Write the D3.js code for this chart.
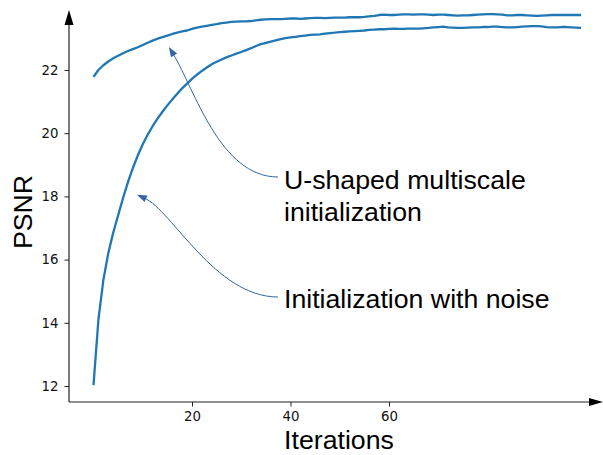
<!DOCTYPE html>
<html>
<head>
<meta charset="utf-8">
<script src="https://cdn.jsdelivr.net/npm/d3@7"></script>
<style>
  html, body { margin: 0; padding: 0; background: #fff; }
  svg { display: block; }
</style>
</head>
<body>
<svg id="chart" width="603" height="455"></svg>
<script>
// PSNR per iteration for the two initialisation strategies
const iterations = d3.range(0, 100);

const psnrNoise = [
  12.03, 14.10, 15.35, 16.20, 16.85, 17.40, 17.95, 18.45, 18.90, 19.30,
  19.65, 19.95, 20.22, 20.46, 20.68, 20.88, 21.07, 21.25, 21.42, 21.57,
  21.72, 21.85, 21.97, 22.08, 22.18, 22.26, 22.33, 22.40, 22.46, 22.52,
  22.57, 22.63, 22.69, 22.76, 22.82, 22.86, 22.90, 22.94, 22.98, 23.01,
  23.03, 23.05, 23.07, 23.09, 23.11, 23.12, 23.13, 23.15, 23.17, 23.18,
  23.20, 23.21, 23.22, 23.23, 23.24, 23.25, 23.27, 23.28, 23.29, 23.29,
  23.30, 23.31, 23.30, 23.30, 23.31, 23.31, 23.31, 23.32, 23.33, 23.35,
  23.36, 23.37, 23.35, 23.34, 23.33, 23.33, 23.34, 23.35, 23.35, 23.36,
  23.36, 23.37, 23.37, 23.36, 23.35, 23.35, 23.36, 23.37, 23.38, 23.39,
  23.39, 23.38, 23.36, 23.35, 23.35, 23.36, 23.36, 23.35, 23.34, 23.33
];

const psnrUShaped = [
  21.78, 22.00, 22.15, 22.27, 22.37, 22.45, 22.53, 22.60, 22.66, 22.72,
  22.79, 22.86, 22.93, 22.99, 23.04, 23.09, 23.14, 23.18, 23.22, 23.25,
  23.30, 23.34, 23.37, 23.40, 23.43, 23.45, 23.48, 23.50, 23.52, 23.53,
  23.54, 23.54, 23.55, 23.57, 23.59, 23.60, 23.61, 23.61, 23.61, 23.62,
  23.63, 23.63, 23.62, 23.63, 23.64, 23.65, 23.65, 23.64, 23.65, 23.66,
  23.66, 23.66, 23.67, 23.67, 23.67, 23.68, 23.70, 23.71, 23.74, 23.75,
  23.74, 23.74, 23.75, 23.76, 23.76, 23.75, 23.76, 23.76, 23.75, 23.74,
  23.75, 23.75, 23.74, 23.73, 23.72, 23.73, 23.73, 23.74, 23.75, 23.76,
  23.77, 23.77, 23.76, 23.75, 23.73, 23.73, 23.74, 23.74, 23.73, 23.72,
  23.71, 23.72, 23.73, 23.74, 23.74, 23.74, 23.74, 23.74, 23.74, 23.74
];

const xTicks = [20, 40, 60];
const yTicks = [12, 14, 16, 18, 20, 22];

// annotation labels and the curve points their arrows point at
const noteLines = [["U-shaped multiscale", "initialization"], ["Initialization with noise"]];
const noteTargets = [[15.3, 22.73], [8.8, 18.05]];

const svg = d3.select("#chart");

const x = d3.scaleLinear().domain([0, 60]).range([93.5, 389]);
const y = d3.scaleLinear().domain([12, 22]).range([386, 70]);

const axisX0 = 69, axisY0 = 402;
const axisColor = "#222";

// axes with arrow heads
const axes = svg.append("g");
axes.append("line")
  .attr("x1", axisX0).attr("x2", axisX0)
  .attr("y1", axisY0).attr("y2", 22)
  .attr("stroke", axisColor).attr("stroke-width", 1.2);
axes.append("path")
  .attr("d", `M${axisX0},10 L${axisX0 - 4.5},25 L${axisX0 + 4.5},25 Z`)
  .attr("fill", "#000");
axes.append("line")
  .attr("x1", axisX0).attr("x2", 592)
  .attr("y1", axisY0).attr("y2", axisY0)
  .attr("stroke", axisColor).attr("stroke-width", 1.2);
axes.append("path")
  .attr("d", `M603,${axisY0} L589,${axisY0 - 4} L589,${axisY0 + 4} Z`)
  .attr("fill", "#000");

const yAxis = svg.append("g")
  .attr("transform", `translate(${axisX0},0)`)
  .call(d3.axisLeft(y).tickValues(yTicks).tickSize(4.5).tickPadding(6).tickFormat(d3.format("d")));
const xAxis = svg.append("g")
  .attr("transform", `translate(0,${axisY0})`)
  .call(d3.axisBottom(x).tickValues(xTicks).tickSize(4.5).tickPadding(5.5).tickFormat(d3.format("d")));

[yAxis, xAxis].forEach(g => {
  g.select(".domain").remove();
  g.selectAll(".tick line").attr("stroke", axisColor).attr("stroke-width", 1);
  g.selectAll(".tick text")
    .attr("fill", "#111")
    .style("font-family", "'DejaVu Sans', sans-serif")
    .style("font-size", "13.3px");
});

// axis titles
svg.append("text")
  .attr("x", 339).attr("y", 449)
  .attr("text-anchor", "middle")
  .style("font-family", "'Liberation Sans', Arial, sans-serif")
  .style("font-size", "26.7px")
  .attr("fill", "#000")
  .text("Iterations");
svg.append("text")
  .attr("transform", "translate(32,212) rotate(-90)")
  .attr("text-anchor", "middle")
  .style("font-family", "'Liberation Sans', Arial, sans-serif")
  .style("font-size", "26.7px")
  .attr("fill", "#000")
  .text("PSNR");

// PSNR curves
const line = d3.line()
  .x((d, i) => x(iterations[i]))
  .y(d => y(d));

[psnrNoise, psnrUShaped].forEach(series => {
  svg.append("path")
    .datum(series)
    .attr("d", line)
    .attr("fill", "none")
    .attr("stroke", "#1f77b4")
    .attr("stroke-width", 2.3)
    .attr("stroke-linejoin", "round")
    .attr("stroke-linecap", "butt");
});

// annotations: text block with a curved arrow running to its curve
const noteColor = "#3465a4";
const noteTextX = 284;
const noteBaselines = [189, 308];
const noteStarts = [[278, 177], [278, 297]];
const noteBends = [[[220, 177], [195, 90]], [[215, 297], [172, 210]]];

noteLines.forEach((lines, k) => {
  const t = svg.append("text")
    .style("font-family", "'Liberation Sans', Arial, sans-serif")
    .style("font-size", "26.7px")
    .attr("fill", "#000");
  lines.forEach((s, j) => {
    t.append("tspan")
      .attr("x", noteTextX)
      .attr("y", noteBaselines[k] + j * 32)
      .text(s);
  });

  const tip = [x(noteTargets[k][0]), y(noteTargets[k][1])];
  const [p0, [c1, c2]] = [noteStarts[k], noteBends[k]];
  // stop the shaft slightly short of the tip so the head stays sharp
  const dx = tip[0] - c2[0], dy = tip[1] - c2[1];
  const len = Math.hypot(dx, dy);
  const ux = dx / len, uy = dy / len;
  const headLen = 10, headW = 3.6;
  const base = [tip[0] - ux * headLen, tip[1] - uy * headLen];

  const p = d3.path();
  p.moveTo(p0[0], p0[1]);
  p.bezierCurveTo(c1[0], c1[1], c2[0], c2[1], base[0] + ux * 2, base[1] + uy * 2);
  svg.append("path")
    .attr("d", p.toString())
    .attr("fill", "none")
    .attr("stroke", noteColor)
    .attr("stroke-width", 1);

  svg.append("path")
    .attr("d", `M${tip[0]},${tip[1]} L${base[0] - uy * headW},${base[1] + ux * headW} L${base[0] + uy * headW},${base[1] - ux * headW} Z`)
    .attr("fill", noteColor);
});
</script>
</body>
</html>
